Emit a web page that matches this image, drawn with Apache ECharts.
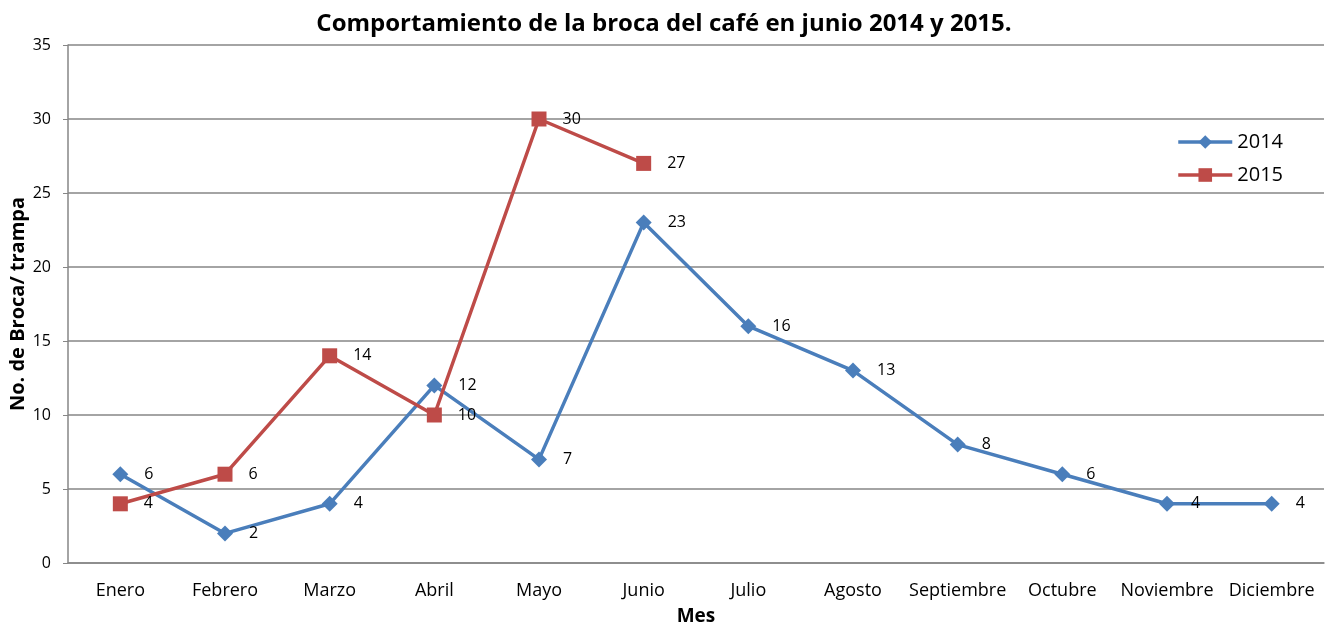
<!DOCTYPE html>
<html>
<head>
<meta charset="utf-8">
<script src="https://cdn.jsdelivr.net/npm/echarts@6/dist/echarts.min.js"></script>
<style>
  html, body { margin: 0; padding: 0; background: #fff; }
  #main { width: 1328px; height: 624px; }
</style>
</head>
<body>
<div id="main"></div>
<script>
  // datos
  var meses = ['Enero', 'Febrero', 'Marzo', 'Abril', 'Mayo', 'Junio', 'Julio',
    'Agosto', 'Septiembre', 'Octubre', 'Noviembre', 'Diciembre'];
  var broca2014 = [6, 2, 4, 12, 7, 23, 16, 13, 8, 6, 4, 4];
  var broca2015 = [4, 6, 14, 10, 30, 27];

  var fuente = '"Open Sans", "Noto Sans", sans-serif';
  var myChart = echarts.init(document.getElementById('main'));

  var etiqueta = {
    show: true,
    position: 'right',
    distance: 16,
    color: '#000',
    fontSize: 16,
    fontFamily: fuente
  };

  var option = {
    backgroundColor: '#ffffff',
    animation: false,
    title: {
      text: 'Comportamiento de la broca del café en junio 2014 y 2015.',
      left: 'center',
      top: 7,
      textStyle: { fontSize: 24, fontWeight: 'bold', color: '#000', fontFamily: fuente }
    },
    legend: {
      orient: 'vertical',
      right: 40,
      top: 127,
      itemWidth: 54,
      itemHeight: 17,
      itemGap: 13,
      lineStyle: { width: 3.5 },
      textStyle: { fontSize: 20, color: '#000', fontFamily: fuente },
      data: ['2014', '2015']
    },
    grid: { left: 68, right: 4, top: 45, bottom: 61, outerBoundsMode: 'none' },
    xAxis: {
      type: 'category',
      data: meses,
      name: 'Mes',
      nameLocation: 'middle',
      nameGap: 44,
      nameMoveOverlap: false,
      nameTextStyle: { fontSize: 19, fontWeight: 'bold', color: '#000', fontFamily: fuente },
      axisLine: { lineStyle: { color: '#868686', width: 1.5 } },
      axisTick: { show: false },
      axisLabel: { interval: 0, color: '#000', fontSize: 18, margin: 19, fontFamily: fuente }
    },
    yAxis: {
      type: 'value',
      min: 0,
      max: 35,
      interval: 5,
      name: 'No. de Broca/ trampa',
      nameLocation: 'middle',
      nameGap: 40,
      nameMoveOverlap: false,
      nameTextStyle: { fontSize: 20, fontWeight: 'bold', color: '#000', fontFamily: fuente },
      axisLine: { show: true, lineStyle: { color: '#868686', width: 1.5 } },
      axisTick: { show: true, length: 5, lineStyle: { color: '#868686' } },
      axisLabel: { color: '#000', fontSize: 16, margin: 17, fontFamily: fuente },
      splitLine: { lineStyle: { color: '#868686', width: 1.5 } }
    },
    series: [{
      name: '2014',
      type: 'line',
      data: broca2014,
      symbol: 'diamond',
      symbolSize: 16,
      lineStyle: { width: 3.5, color: '#4a7ebb' },
      itemStyle: { color: '#4a7ebb' },
      label: etiqueta
    }, {
      name: '2015',
      type: 'line',
      data: broca2015,
      symbol: 'rect',
      symbolSize: 15,
      lineStyle: { width: 3.5, color: '#be4b48' },
      itemStyle: { color: '#be4b48' },
      label: etiqueta
    }]
  };

  myChart.setOption(option);
</script>
</body>
</html>
